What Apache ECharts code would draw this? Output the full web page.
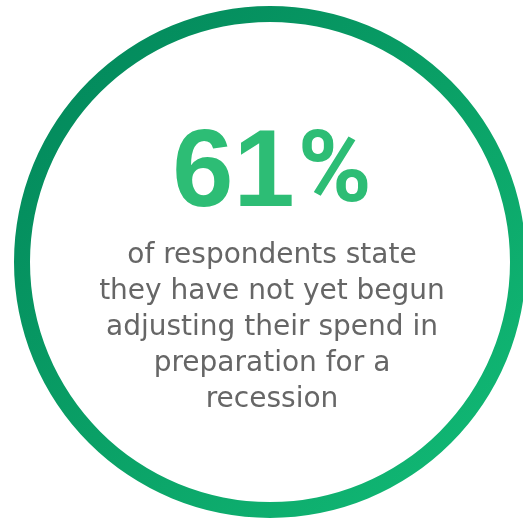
<!DOCTYPE html>
<html>
<head>
<meta charset="utf-8">
<script src="https://cdn.jsdelivr.net/npm/echarts@6/dist/echarts.min.js"></script>
<style>
  html, body { margin: 0; padding: 0; background: #ffffff; }
  #chart { width: 523px; height: 520px; }
</style>
</head>
<body>
<div id="chart"></div>
<script>
// Headline figure and the statement it belongs to
const shareValues = [61];
const shareNames = ['Not yet adjusting spend'];
const statementLines = [
  'of respondents state',
  'they have not yet begun',
  'adjusting their spend in',
  'preparation for a',
  'recession'
];

const chart = echarts.init(document.getElementById('chart'), null, { renderer: 'canvas' });

const ringGradient = {
  type: 'linear', x: 0, y: 0, x2: 1, y2: 1,
  colorStops: [
    { offset: 0, color: '#01845a' },
    { offset: 0.5, color: '#0aa066' },
    { offset: 1, color: '#12bd77' }
  ]
};

// digits and the percent sign are set as separate tokens
const headline = (v) => String(v).split('').map(d => '{big|' + d + '}').join('') + '{pct|%}';

chart.setOption({
  animation: false,
  backgroundColor: '#ffffff',
  series: [{
    type: 'pie',
    center: [270, 262],
    radius: [240, 256],
    silent: true,
    startAngle: 90,
    data: shareValues.map((v, i) => ({ value: v, name: shareNames[i] })),
    itemStyle: { color: ringGradient, borderWidth: 0 },
    labelLine: { show: false },
    label: {
      show: true,
      position: 'center',
      offset: [2, 4],
      formatter: (p) => headline(p.value) + '\n' +
        statementLines.map(s => '{txt|' + s + '}').join('\n'),
      rich: {
        big: {
          fontFamily: '"Liberation Sans", Arial, sans-serif',
          fontWeight: 'bold',
          fontSize: 110,
          lineHeight: 124,
          color: '#2dbd75',
          align: 'center'
        },
        pct: {
          fontFamily: 'Roboto, "Liberation Sans", sans-serif',
          fontWeight: 'bold',
          fontSize: 100,
          lineHeight: 124,
          padding: [0, 0, 0, 3],
          color: '#2dbd75',
          align: 'center'
        },
        txt: {
          fontFamily: '"DejaVu Sans", Verdana, sans-serif',
          fontSize: 28,
          lineHeight: 36,
          color: '#666666',
          align: 'center'
        }
      }
    }
  }]
});
</script>
</body>
</html>
